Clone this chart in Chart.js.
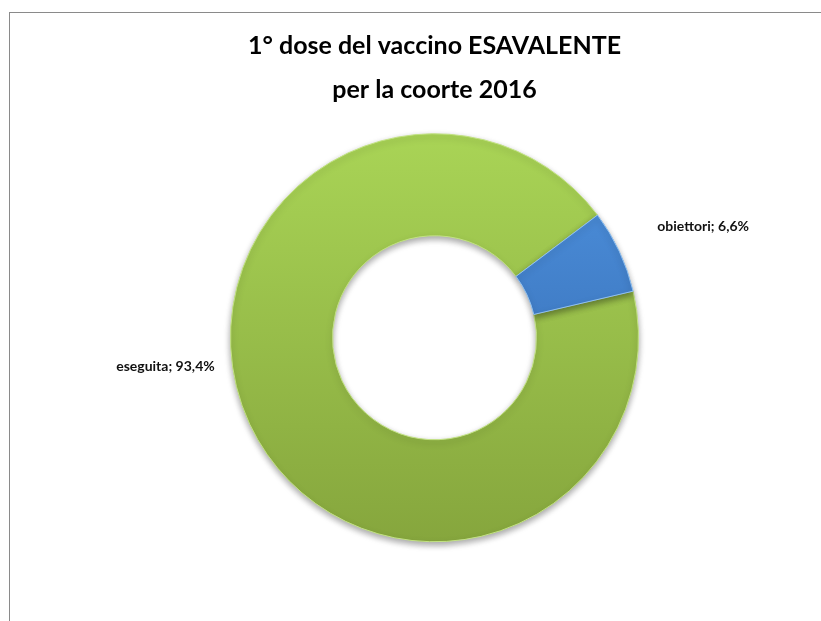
<!DOCTYPE html>
<html>
<head>
<meta charset="utf-8">
<script src="https://cdn.jsdelivr.net/npm/chart.js@4.4.0/dist/chart.umd.min.js"></script>
<style>
  html, body { margin: 0; padding: 0; background: #fff; }
  #wrap { position: relative; width: 821px; height: 621px; overflow: hidden; }
  #frame { position: absolute; left: 9px; top: 12px; right: -2px; bottom: -2px;
           border-left: 1px solid #8a8a8a; border-top: 1px solid #8a8a8a; }
  canvas { position: absolute; left: 0; top: 0; }
</style>
</head>
<body>
<div id="wrap">
  <div id="frame"></div>
  <canvas id="doseChart" width="821" height="621"></canvas>
</div>
<script>
var titleLines = ['1° dose del vaccino ESAVALENTE', 'per la coorte 2016'];
var categories = ['eseguita', 'obiettori'];
var percentages = [93.4, 6.6];
var pctLabels = ['93,4%', '6,6%'];

// gradient colours (top, bottom) for each slice
var topColors = ['#a9d456', '#4f93e0'];
var bottomColors = ['#86a63d', '#2f63a8'];
// label offset from the slice's outer mid-point
var labelOffsets = [[-35, -58], [38, -25]];
var labelAlign = ['right', 'left'];

function sliceFill(context) {
    var chart = context.chart;
    var area = chart.chartArea;
    if (!area || !isFinite(area.top) || !isFinite(area.bottom)) return topColors[context.dataIndex];
    var cy = (area.top + area.bottom) / 2;
    var r = 204;
    var g = chart.ctx.createLinearGradient(0, cy - r, 0, cy + r);
    g.addColorStop(0, topColors[context.dataIndex]);
    g.addColorStop(1, bottomColors[context.dataIndex]);
    return g;
}

var shadowPlugin = {
    id: 'donutShadow',
    beforeDatasetsDraw: function (chart) {
        var ctx = chart.ctx;
        ctx.save();
        ctx.shadowColor = 'rgba(0,0,0,0.35)';
        ctx.shadowBlur = 6;
        ctx.shadowOffsetY = 3;
    },
    afterDatasetsDraw: function (chart) {
        chart.ctx.restore();
    }
};

var sliceLabels = {
    id: 'sliceLabels',
    afterDraw: function (chart) {
        var ctx = chart.ctx;
        var meta = chart.getDatasetMeta(0);
        ctx.save();
        ctx.font = 'bold 14px Lato, "Open Sans", sans-serif';
        ctx.fillStyle = '#111';
        ctx.textBaseline = 'middle';
        meta.data.forEach(function (arc, i) {
            var mid = (arc.startAngle + arc.endAngle) / 2;
            var x = arc.x + Math.cos(mid) * arc.outerRadius + labelOffsets[i][0];
            var y = arc.y + Math.sin(mid) * arc.outerRadius + labelOffsets[i][1];
            ctx.textAlign = labelAlign[i];
            ctx.fillText(categories[i] + '; ' + pctLabels[i], x, y);
        });
        ctx.restore();
    }
};

var ctx = document.getElementById('doseChart').getContext('2d');
var doseChart = new Chart(ctx, {
    type: 'doughnut',
    data: {
        labels: categories,
        datasets: [{
            data: percentages,
            backgroundColor: sliceFill,
            borderColor: ['#c2e283', '#8fc0f0'],
            borderWidth: 1
        }]
    },
    options: {
        responsive: false,
        animation: false,
        rotation: 76.8,
        radius: 204,
        cutout: '50%',
        layout: { padding: { left: 48, right: 0, top: 0, bottom: 57 } },
        plugins: {
            legend: { display: false },
            tooltip: { enabled: false },
            title: {
                display: true,
                text: titleLines,
                color: '#000',
                font: { family: 'Lato, "Open Sans", sans-serif', size: 25, weight: 'bold', lineHeight: 1.75 },
                padding: { top: 24, bottom: 0 }
            }
        }
    },
    plugins: [shadowPlugin, sliceLabels]
});
</script>
</body>
</html>
